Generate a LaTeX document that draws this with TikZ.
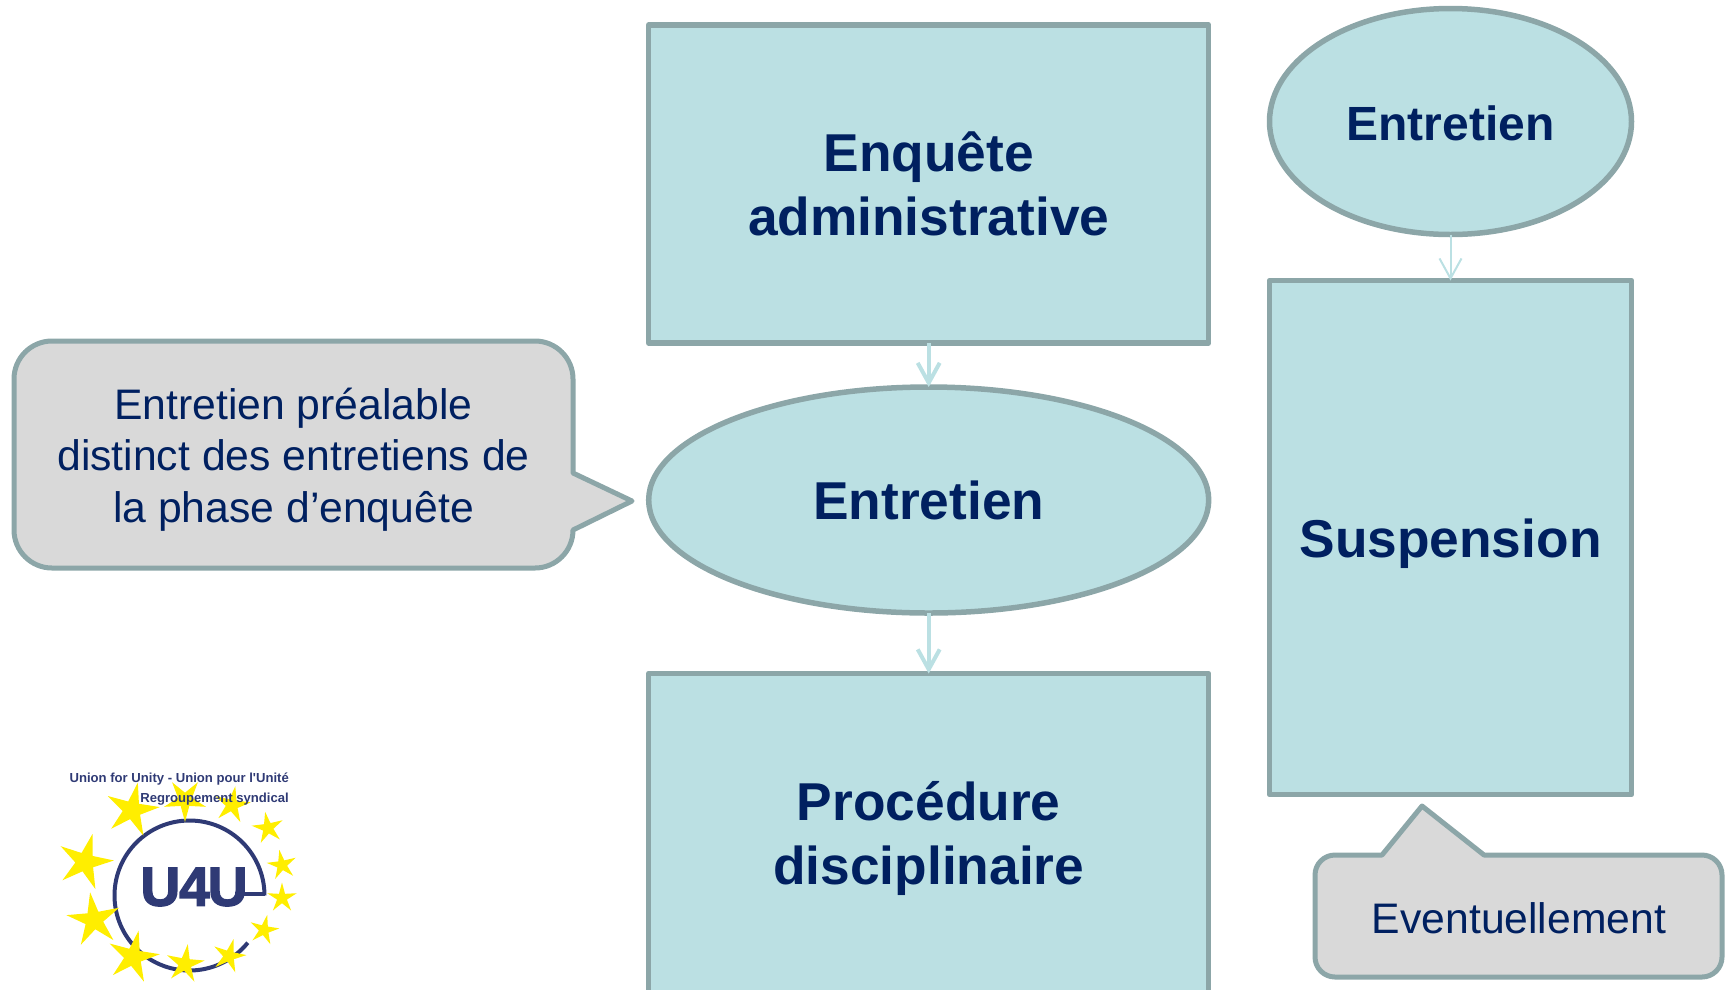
\documentclass[tikz,border=0pt]{standalone}
\usepackage{fontspec}
\setmainfont{Liberation Sans}
\newfontfamily\ufont{Liberation Sans}[UprightFont=* Bold,FakeBold=2.5]
\usetikzlibrary{shapes.geometric,arrows.meta}
\definecolor{boxfill}{HTML}{BBE0E3}
\definecolor{boxline}{HTML}{8CA6A8}
\definecolor{boxtext}{HTML}{002060}
\definecolor{notefill}{HTML}{D9D9D9}
\definecolor{logoblue}{HTML}{2F3A75}
\definecolor{logostar}{HTML}{FFEE00}
\tikzset{
  stepbox/.style={draw=boxline,fill=boxfill,line width=5.5,line join=round,outer sep=0,inner sep=0,text=boxtext,align=center,font=\fontsize{53.3}{64}\selectfont\bfseries},
  stepround/.style={stepbox,ellipse,text height=38,text depth=0},
  flow/.style={draw=boxfill,-{Straight Barb[length=20,width=22,line width=#1]},line width=#1},
  notebox/.style={draw=boxline,fill=notefill,line width=5,line join=round},
  notetext/.style={text=boxtext,align=center,inner sep=0,font=\fontsize{42.7}{51.7}\selectfont},
  star12/.style={star,star points=5,star point ratio=3,fill=logostar,inner sep=0,outer sep=0},
}
\begin{document}
\begin{tikzpicture}[x=1pt,y=-1pt]
        \useasboundingbox (0,0) rectangle (1727,989);

        % middle column
        \node[stepbox,minimum width=560,minimum height=318] (Enq) at (928.7,184) {Enquête\\administrative};
        \node[stepround,minimum width=560,minimum height=226] (Ent) at (928.7,500) {Entretien};
        \node[stepbox,minimum width=560,minimum height=330] (Proc) at (928.7,838.5) {Procédure\\disciplinaire};
        \draw[flow=4] (Enq) -- (Ent);
        \draw[flow=4] (Ent) -- (Proc);

        % right column
        \node[stepround,minimum width=362,minimum height=226,font=\fontsize{48}{58}\selectfont\bfseries] (EntB) at (1450.5,121.5) {Entretien};
        \node[stepbox,text height=40,text depth=0,minimum width=362,minimum height=514] (Susp) at (1450.5,537.5) {Suspension};
        \draw[flow=2] (EntB) -- (Susp);

        % callouts
        \draw[notebox] (573,473) -- (573,379) arc[start angle=0,end angle=-90,radius=38] -- (52,341) arc[start angle=-90,end angle=-180,radius=38]
            -- (14,530) arc[start angle=180,end angle=90,radius=38] -- (535,568) arc[start angle=90,end angle=0,radius=38] -- (632,501) -- cycle;
        \node[notetext] (NoteA) at (293.5,459.5) {Entretien préalable\\distinct des entretiens de\\la phase d’enquête};
        \draw[notebox] (1382,855) -- (1335,855) arc[start angle=-90,end angle=-180,radius=20] -- (1315,957) arc[start angle=180,end angle=90,radius=20]
            -- (1702,977) arc[start angle=90,end angle=0,radius=20] -- (1722,875) arc[start angle=0,end angle=-90,radius=20] -- (1484,855) -- (1422,806) -- cycle;
        \node[notetext] (NoteB) at (1519,918) {Eventuellement};

        % logo
        \draw[logoblue,line width=4] (264.5,895.5) arc[start angle=0,end angle=-321,radius=75];
        \draw[logoblue,line width=4] (264.5,894) -- (235,894);
        \node[text=logoblue,inner sep=0,font=\fontsize{55}{55}\ufont] (Ulogo) at (194,887) {U\kern-1pt 4\kern-2pt U};
        %
        \foreach \x/\y/\r/\a in {132/810/56/-12, 185/800/44/180, 232/805/38/-10, 268/828/33/10,
            282/865/31/10, 282/898/31/0, 264/930/31/-12, 229/956/35/-15, 185/964/40/-8,
            133/957/54/-12, 94/920/56/8, 85/862/58/-15}
          \node[star12,minimum size=\r,rotate=\a] (S\x) at (\x,\y) {};
        %
        \node[text=logoblue,anchor=east,inner sep=0,font=\fontsize{13.1}{13.1}\selectfont\bfseries] (LogoA) at (289,779) {Union for Unity - Union pour l\textquotesingle Unité};
        \node[text=logoblue,anchor=east,inner sep=0,font=\fontsize{13.1}{13.1}\selectfont\bfseries] (LogoB) at (289,799) {Regroupement syndical};
\end{tikzpicture}
\end{document}
